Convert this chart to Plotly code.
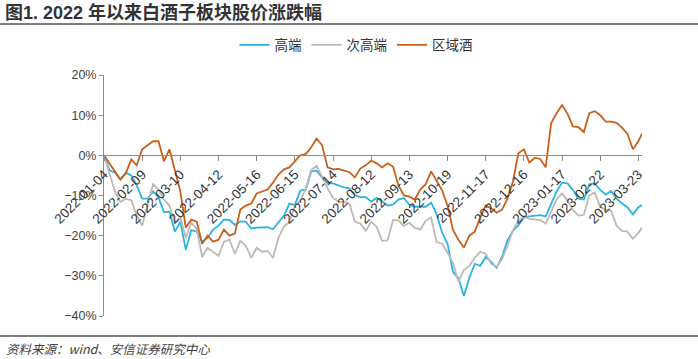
import plotly.graph_objects as go

# trading-day index of each sampled point (every 3 trading days from 2022-01-04)
day_index = [3 * k for k in range(99)] + [296]

high_end = [0, -3.7, -4.3, -6, -4.3, -5, -7.5, -10.8, -10.8, -9,
            -10.5, -14.2, -14, -19, -16.5, -23.5, -18.6, -19, -21.5, -20.5,
            -18.5, -17.5, -16, -16.1, -17.3, -16.5, -16.5, -18.2, -18, -17.9,
            -17.9, -18.4, -16.8, -15, -12, -12.4, -8.8, -8.5, -4, -3.8,
            -5.5, -6.9, -7, -7.5, -8, -8.2, -9.9, -10.4, -10.4, -11.5,
            -10.6, -11.5, -12.5, -12.2, -11, -10.6, -12.3, -12.8, -12.8, -12.8,
            -11.8, -14.7, -19.2, -22, -29, -30.6, -35, -30.5, -27, -27.5,
            -25.3, -26.5, -28, -25.2, -21.2, -18.8, -17.4, -15.5, -15.2, -15,
            -14.9, -15.2, -12, -9, -6.8, -7, -8.6, -10.8, -11, -7.2,
            -7, -8.6, -9.8, -8.9, -10.8, -12, -12.9, -14.7, -12.9, -12.4]

sub_high_end = [0, -4.5, -9, -11.6, -10.8, -11.2, -15, -17.5, -12, -7.2,
                -8.5, -11, -12.5, -16.6, -15.5, -20.5, -16.8, -18.2, -25.3, -23,
                -24, -25, -21.5, -21, -24.5, -21.3, -22.5, -25.5, -23, -24,
                -23.8, -25.5, -20.5, -17.8, -16.6, -12.6, -11.3, -8.4, -3.6, -2.6,
                -5.3, -8.2, -10.6, -11.5, -11.6, -12, -16.5, -17, -18.8, -16.5,
                -17.8, -21.3, -21.2, -16.1, -16.2, -17.6, -16.8, -18, -18.5, -16.3,
                -15.5, -21.6, -22, -24.2, -26.8, -31.5, -28.5, -27.6, -25.5, -24,
                -24.5, -27, -27.8, -25.8, -22.5, -18.7, -16.3, -15.2, -15.8, -16,
                -16.1, -17, -14, -11, -9.5, -11.2, -13.6, -15, -14.8, -10,
                -9.2, -12.9, -13.5, -13.8, -17.5, -18.8, -19, -20.8, -19.3, -18]

regional = [0, -2, -4, -6, -4.5, -1, -2.5, 1.5, 2.5, 3.5,
            3.5, -1.5, 1.5, -3.5, -9, -18, -16, -16.5, -22, -20,
            -21.5, -21, -18.5, -20, -19.5, -13.5, -12.5, -12, -9.5, -9,
            -8.5, -6.8, -4.8, -3.5, -3, -1.5, 0, 0.3, 2, 4.2,
            2.5, -3, -3.5, -3.4, -3.8, -4.2, -5.5, -3.3, -2.5, -1.3,
            -2, -3, -2, -2.8, -7.5, -10, -10.3, -11, -8.5, -7.2,
            -4, -6.5, -8.7, -12.5, -18.6, -21, -23, -20, -19, -15.5,
            -12.5, -13.2, -14.3, -13.5, -10.8, -6.5, 0.5, 1.5, -1.8, -0.6,
            -0.9, -3, 8, 10.5, 12.5, 10.4, 7.2, 7, 5.8, 10.5,
            11, 10, 8.4, 8.4, 8.1, 6.9, 5.3, 1.5, 3.5, 5.4]

tick_days = [0, 21, 42, 63, 84, 105, 126, 147, 168, 189, 210, 231, 252, 273, 294]
tick_labels = ["2022-01-04", "2022-02-09", "2022-03-10", "2022-04-12", "2022-05-16",
               "2022-06-15", "2022-07-14", "2022-08-12", "2022-09-13", "2022-10-19",
               "2022-11-17", "2022-12-16", "2023-01-17", "2023-02-22", "2023-03-23"]

y_ticks = [20, 10, 0, -10, -20, -30, -40]
y_tick_labels = ["20%", "10%", "0%", "\u221210%", "\u221220%", "\u221230%", "\u221240%"]

series = [("高端", high_end, "#2AB4E6"),
          ("次高端", sub_high_end, "#BEB9B9"),
          ("区域酒", regional, "#C9601A")]

fig = go.Figure()
for name, vals, color in series:
    fig.add_trace(go.Scatter(x=day_index, y=vals, mode="lines", name=name,
                             line=dict(color=color, width=1.8)))

axis_font = dict(family="Liberation Sans, Arial", size=12.5, color="#404040")
xtick_font = dict(family="Liberation Sans, Arial", size=13.5, color="#333333")

W, H = 698, 359

fig.update_layout(
    width=W, height=H,
    margin=dict(l=104, r=56, t=75, b=43, autoexpand=False),
    paper_bgcolor="white", plot_bgcolor="white",
    showlegend=True,
    legend=dict(orientation="h", xref="container", yref="container",
                x=356 / W, xanchor="center", y=1 - 45 / H, yanchor="middle",
                font=dict(family="Noto Sans CJK SC", size=13.5, color="#333333"),
                bgcolor="rgba(0,0,0,0)", itemwidth=30, tracegroupgap=0),
    xaxis=dict(range=[0, 296], tickvals=tick_days, ticktext=tick_labels,
               tickangle=-45, showgrid=False, zeroline=False, automargin=False,
               showline=True, linecolor="#8C8C8C", linewidth=1,
               ticks="outside", ticklen=5, tickcolor="#8C8C8C",
               anchor="free", position=40 / 60, tickfont=xtick_font),
    yaxis=dict(range=[-40, 20], tickvals=y_ticks, ticktext=y_tick_labels,
               showgrid=False, zeroline=False, showline=True, automargin=False,
               linecolor="#8C8C8C", linewidth=1, ticks="outside", ticklen=4,
               tickcolor="#8C8C8C", tickfont=axis_font),
)

# helpers: page pixel -> paper fraction (plot area spans x 104..642, y 75..316)
def px_x(p):
    return (p - 104) / 538

def px_y(p):
    return (316 - p) / 241

fig.add_shape(type="line", xref="paper", yref="paper",
              x0=px_x(0), x1=px_x(698), y0=px_y(24), y1=px_y(24),
              line=dict(color="#7F7F7F", width=2))
fig.add_shape(type="line", xref="paper", yref="paper",
              x0=px_x(0), x1=px_x(698), y0=px_y(336), y1=px_y(336),
              line=dict(color="#7F7F7F", width=2))

fig.add_annotation(text="<b>图1. 2022 年以来白酒子板块股价涨跌幅</b>",
                   xref="paper", yref="paper", x=px_x(3), y=px_y(12),
                   xanchor="left", yanchor="middle", showarrow=False,
                   font=dict(family="Liberation Sans, Noto Sans CJK SC", size=18, color="#333333"))
fig.add_annotation(text="<i>资料来源：wind、安信证券研究中心</i>",
                   xref="paper", yref="paper", x=px_x(4), y=px_y(348),
                   xanchor="left", yanchor="middle", showarrow=False,
                   font=dict(family="Noto Sans CJK SC", size=12.5, color="#404040"))

# remove the default 8px page margin so the figure fills the window exactly
fig.write_html("out.html",
               config={"displayModeBar": False},
               post_script="document.body.style.margin='0px';document.body.style.overflow='hidden';")
